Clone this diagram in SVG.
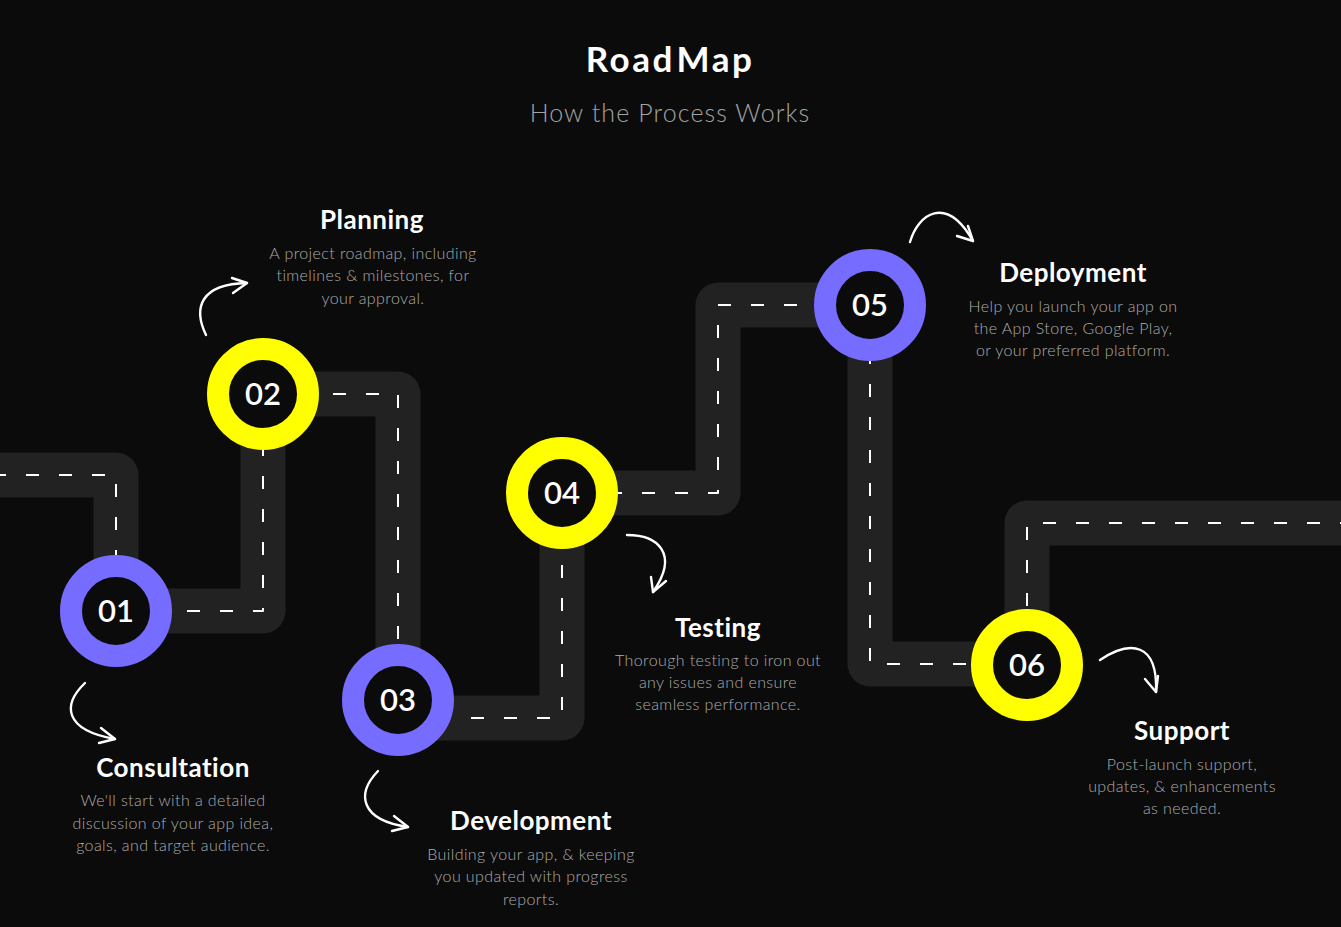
<svg xmlns="http://www.w3.org/2000/svg" width="1341" height="927" viewBox="0 0 1341 927">
  <defs>
    <style>
      .bg { fill: #0b0b0b; }
      .road { fill: none; stroke: #222222; stroke-width: 45; stroke-linejoin: round; }
      .lane { fill: none; stroke: #ffffff; stroke-width: 2; stroke-dasharray: 13 20; stroke-linejoin: round; }
      .ring-p { fill: #0b0b0b; stroke: #766cff; stroke-width: 22; }
      .ring-y { fill: #0b0b0b; stroke: #ffff00; stroke-width: 22; }
      .num { font-family: Lato, "Liberation Sans", sans-serif; font-weight: 600; font-size: 31px; fill: #ffffff; text-anchor: middle; }
      .title { font-family: Lato, "Liberation Sans", sans-serif; font-weight: 700; font-size: 35px; fill: #ffffff; text-anchor: middle; letter-spacing: 2.5px; }
      .subtitle { font-family: Lato, "Liberation Sans", sans-serif; font-weight: 300; font-size: 25px; fill: #a3a3a3; text-anchor: middle; letter-spacing: 1.1px; }
      .head { font-family: Lato, "Liberation Sans", sans-serif; font-weight: 700; font-size: 26px; fill: #ffffff; text-anchor: middle; letter-spacing: 0.5px; }
      .desc { font-family: Lato, "Liberation Sans", sans-serif; font-weight: 300; font-size: 16px; fill: #acacac; text-anchor: middle; letter-spacing: 0.4px; }
      .arrow { fill: none; stroke: #ffffff; stroke-width: 2.4; stroke-linecap: round; stroke-linejoin: round; }
    </style>
  </defs>

  <rect class="bg" x="0" y="0" width="1341" height="927"/>

  <!-- Title -->
  <g id="header">
    <text class="title" x="670" y="72">Road<tspan dx="2">Map</tspan></text>
    <text class="subtitle" x="670" y="122">How the Process Works</text>
  </g>

  <!-- Road with centre lane markings -->
  <g id="connectors">
    <path class="road" d="M -40 475 H 116 V 611 H 263 V 394 H 398 V 718 H 562 V 493 H 718 V 305 H 870 V 664 H 1027 V 523 H 1380"/>
    <path class="lane" d="M -40 475 H 116 V 611 H 263 V 394 H 398 V 718 H 562 V 493 H 718 V 305 H 870 V 664 H 1027 V 523 H 1380"/>

    <!-- hand-drawn pointer arrows -->
    <path class="arrow" d="M 85 683 C 62 705, 64 730, 115 739"/>
    <path class="arrow" d="M 101 728 L 115 739 L 99 743"/>

    <path class="arrow" d="M 206 335 C 193 308, 200 284, 247 283"/>
    <path class="arrow" d="M 232 278 L 247 283 L 233 293"/>

    <path class="arrow" d="M 378 771 C 356 794, 360 820, 408 827"/>
    <path class="arrow" d="M 394 816 L 408 827 L 392 831"/>

    <path class="arrow" d="M 627 535 C 657 535, 680 553, 653 592"/>
    <path class="arrow" d="M 651 577 L 653 592 L 666 581"/>

    <path class="arrow" d="M 910 242 C 918 214, 946 194, 973 241"/>
    <path class="arrow" d="M 957 236 L 973 241 L 968 226"/>

    <path class="arrow" d="M 1100 660 C 1130 640, 1158 642, 1156 692"/>
    <path class="arrow" d="M 1145 679 L 1156 692 L 1158 676"/>
  </g>

  <!-- Steps -->
  <g id="step-01">
    <circle class="ring-p" cx="116" cy="611" r="45"/>
    <text class="num" x="116" y="622">01</text>
    <text class="head" x="173" y="777">Consultation</text>
    <text class="desc" x="173" y="806">We'll start with a detailed</text>
    <text class="desc" x="173" y="829">discussion of your app idea,</text>
    <text class="desc" x="173" y="851">goals, and target audience.</text>
  </g>

  <g id="step-02">
    <circle class="ring-y" cx="263" cy="394" r="45"/>
    <text class="num" x="263" y="405">02</text>
    <text class="head" x="372" y="229">Planning</text>
    <text class="desc" x="373" y="259">A project roadmap, including</text>
    <text class="desc" x="373" y="281">timelines &amp; milestones, for</text>
    <text class="desc" x="373" y="304">your approval.</text>
  </g>

  <g id="step-03">
    <circle class="ring-p" cx="398" cy="700" r="45"/>
    <text class="num" x="398" y="711">03</text>
    <text class="head" x="531" y="830">Development</text>
    <text class="desc" x="531" y="860">Building your app, &amp; keeping</text>
    <text class="desc" x="531" y="882">you updated with progress</text>
    <text class="desc" x="531" y="905">reports.</text>
  </g>

  <g id="step-04">
    <circle class="ring-y" cx="562" cy="493" r="45"/>
    <text class="num" x="562" y="504">04</text>
    <text class="head" x="718" y="637">Testing</text>
    <text class="desc" x="718" y="666">Thorough testing to iron out</text>
    <text class="desc" x="718" y="688">any issues and ensure</text>
    <text class="desc" x="718" y="710">seamless performance.</text>
  </g>

  <g id="step-05">
    <circle class="ring-p" cx="870" cy="305" r="45"/>
    <text class="num" x="870" y="316">05</text>
    <text class="head" x="1073" y="282">Deployment</text>
    <text class="desc" x="1073" y="312">Help you launch your app on</text>
    <text class="desc" x="1073" y="334">the App Store, Google Play,</text>
    <text class="desc" x="1073" y="356">or your preferred platform.</text>
  </g>

  <g id="step-06">
    <circle class="ring-y" cx="1027" cy="665" r="45"/>
    <text class="num" x="1027" y="676">06</text>
    <text class="head" x="1182" y="740">Support</text>
    <text class="desc" x="1182" y="770">Post-launch support,</text>
    <text class="desc" x="1182" y="792">updates, &amp; enhancements</text>
    <text class="desc" x="1182" y="814">as needed.</text>
  </g>
</svg>
